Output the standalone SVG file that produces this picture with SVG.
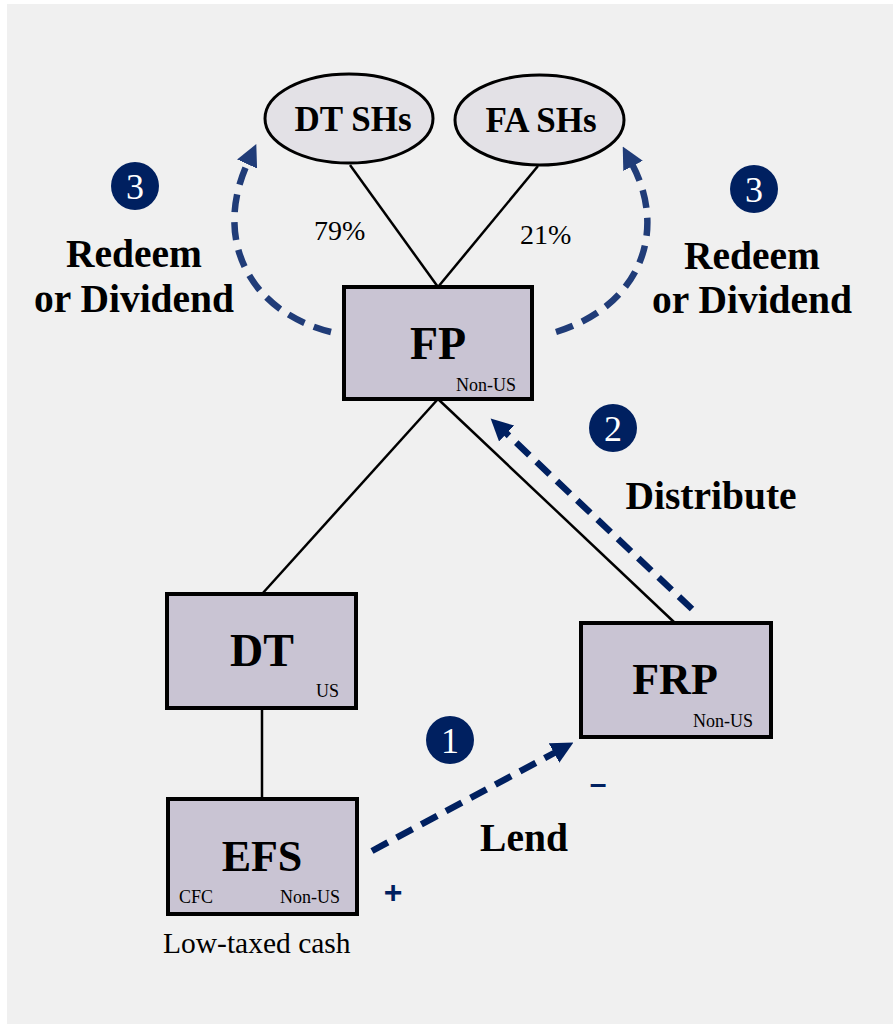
<svg xmlns="http://www.w3.org/2000/svg" width="893" height="1024" viewBox="0 0 893 1024">
  <style>
    .box { fill: #c9c4d3; stroke: #000; stroke-width: 4; }
    .oval { fill: #e3e1e6; stroke: #000; stroke-width: 3; }
    .link { stroke: #000; stroke-width: 2.5; fill: none; }
    .title { font-family: "Liberation Serif", serif; font-weight: bold; fill: #000; text-anchor: middle; }
    .tag { font-family: "Liberation Serif", serif; font-size: 18px; fill: #000; }
    .pct { font-family: "Liberation Serif", serif; font-size: 28px; fill: #000; }
    .note { font-family: "Liberation Serif", serif; font-size: 29.5px; fill: #000; }
    .step { font-family: "Liberation Serif", serif; font-weight: bold; font-size: 39.5px; fill: #000; text-anchor: middle; }
    .badge circle { fill: #002060; }
    .badge text { font-family: "Liberation Serif", serif; font-size: 36px; fill: #fff; text-anchor: middle; }
    .flow { fill: none; stroke-width: 6.5; stroke-dasharray: 18 10; }
    .navy { stroke: #002060; }
    .blue { stroke: #203c78; }
    .sign { font-family: "Liberation Sans", sans-serif; font-weight: bold; fill: #002060; text-anchor: middle; }
  </style>
  <defs>
    <marker id="headNavy" viewBox="0 0 10 10" refX="1" refY="5" markerWidth="22" markerHeight="22" markerUnits="userSpaceOnUse" orient="auto">
      <path d="M0,0 L10,5 L0,10 z" fill="#002060"/>
    </marker>
    <marker id="headBlue" viewBox="0 0 10 10" refX="1" refY="5" markerWidth="22" markerHeight="22" markerUnits="userSpaceOnUse" orient="auto">
      <path d="M0,0 L10,5 L0,10 z" fill="#203c78"/>
    </marker>
  </defs>

  <!-- page -->
  <rect x="0" y="0" width="893" height="1024" fill="#ffffff"/>
  <rect x="7" y="4" width="886" height="1020" fill="#f0f0f0"/>

  <!-- ownership lines and cash flows -->
  <g id="connectors">
    <line class="link" x1="350" y1="165" x2="438" y2="287"/>
    <line class="link" x1="538" y1="166" x2="438" y2="287"/>
    <line class="link" x1="438" y1="399" x2="262" y2="594"/>
    <line class="link" x1="438" y1="399" x2="675" y2="623"/>
    <line class="link" x1="262" y1="708" x2="262" y2="799"/>

    <path class="flow blue" d="M331,332 C250,312 212,240 248,162" marker-end="url(#headBlue)"/>
    <path class="flow blue" d="M556,332 C640,306 668,232 632,164" marker-end="url(#headBlue)"/>
    <path class="flow navy" d="M692,609 L505,432" marker-end="url(#headNavy)"/>
    <path class="flow navy" d="M372,851 L556,752" marker-end="url(#headNavy)"/>
  </g>

  <g id="dt-shs">
    <ellipse class="oval" cx="349" cy="118.5" rx="84" ry="44.5"/>
    <text class="title" x="353" y="131" font-size="35">DT SHs</text>
  </g>

  <g id="fa-shs">
    <ellipse class="oval" cx="539.5" cy="120" rx="84.5" ry="45"/>
    <text class="title" x="541" y="132" font-size="35">FA SHs</text>
  </g>

  <g id="pct-labels">
    <text class="pct" x="314" y="240">79%</text>
    <text class="pct" x="520" y="244">21%</text>
  </g>

  <g id="fp">
    <rect class="box" x="344" y="287" width="188" height="112"/>
    <text class="title" x="438" y="359" font-size="46">FP</text>
    <text class="tag" x="516" y="391" text-anchor="end">Non-US</text>
  </g>

  <g id="dt">
    <rect class="box" x="167" y="594" width="189" height="114"/>
    <text class="title" x="262" y="666" font-size="46">DT</text>
    <text class="tag" x="339" y="697" text-anchor="end">US</text>
  </g>

  <g id="frp">
    <rect class="box" x="581" y="623" width="190" height="114"/>
    <text class="title" x="675" y="694" font-size="44">FRP</text>
    <text class="tag" x="753" y="727" text-anchor="end">Non-US</text>
  </g>

  <g id="efs">
    <rect class="box" x="168" y="799" width="189" height="115"/>
    <text class="title" x="262" y="871" font-size="44">EFS</text>
    <text class="tag" x="179" y="903">CFC</text>
    <text class="tag" x="340" y="903" text-anchor="end">Non-US</text>
    <text class="note" x="163" y="953">Low-taxed cash</text>
  </g>

  <g id="step-3-left">
    <g class="badge"><circle cx="135" cy="186" r="24"/><text x="135" y="199">3</text></g>
    <text class="step" x="134" y="267">Redeem</text>
    <text class="step" x="134" y="312">or Dividend</text>
  </g>

  <g id="step-3-right">
    <g class="badge"><circle cx="754" cy="189" r="24"/><text x="754" y="202">3</text></g>
    <text class="step" x="752" y="269">Redeem</text>
    <text class="step" x="752" y="313">or Dividend</text>
  </g>

  <g id="step-2">
    <g class="badge"><circle cx="613" cy="428" r="24"/><text x="613" y="441">2</text></g>
    <text class="step" x="711" y="509">Distribute</text>
  </g>

  <g id="step-1">
    <g class="badge"><circle cx="450" cy="740" r="24"/><text x="450" y="753">1</text></g>
    <text class="step" x="524" y="851">Lend</text>
    <text class="sign" x="393" y="903" font-size="32">+</text>
    <text class="sign" x="598" y="794" font-size="30">–</text>
  </g>
</svg>
